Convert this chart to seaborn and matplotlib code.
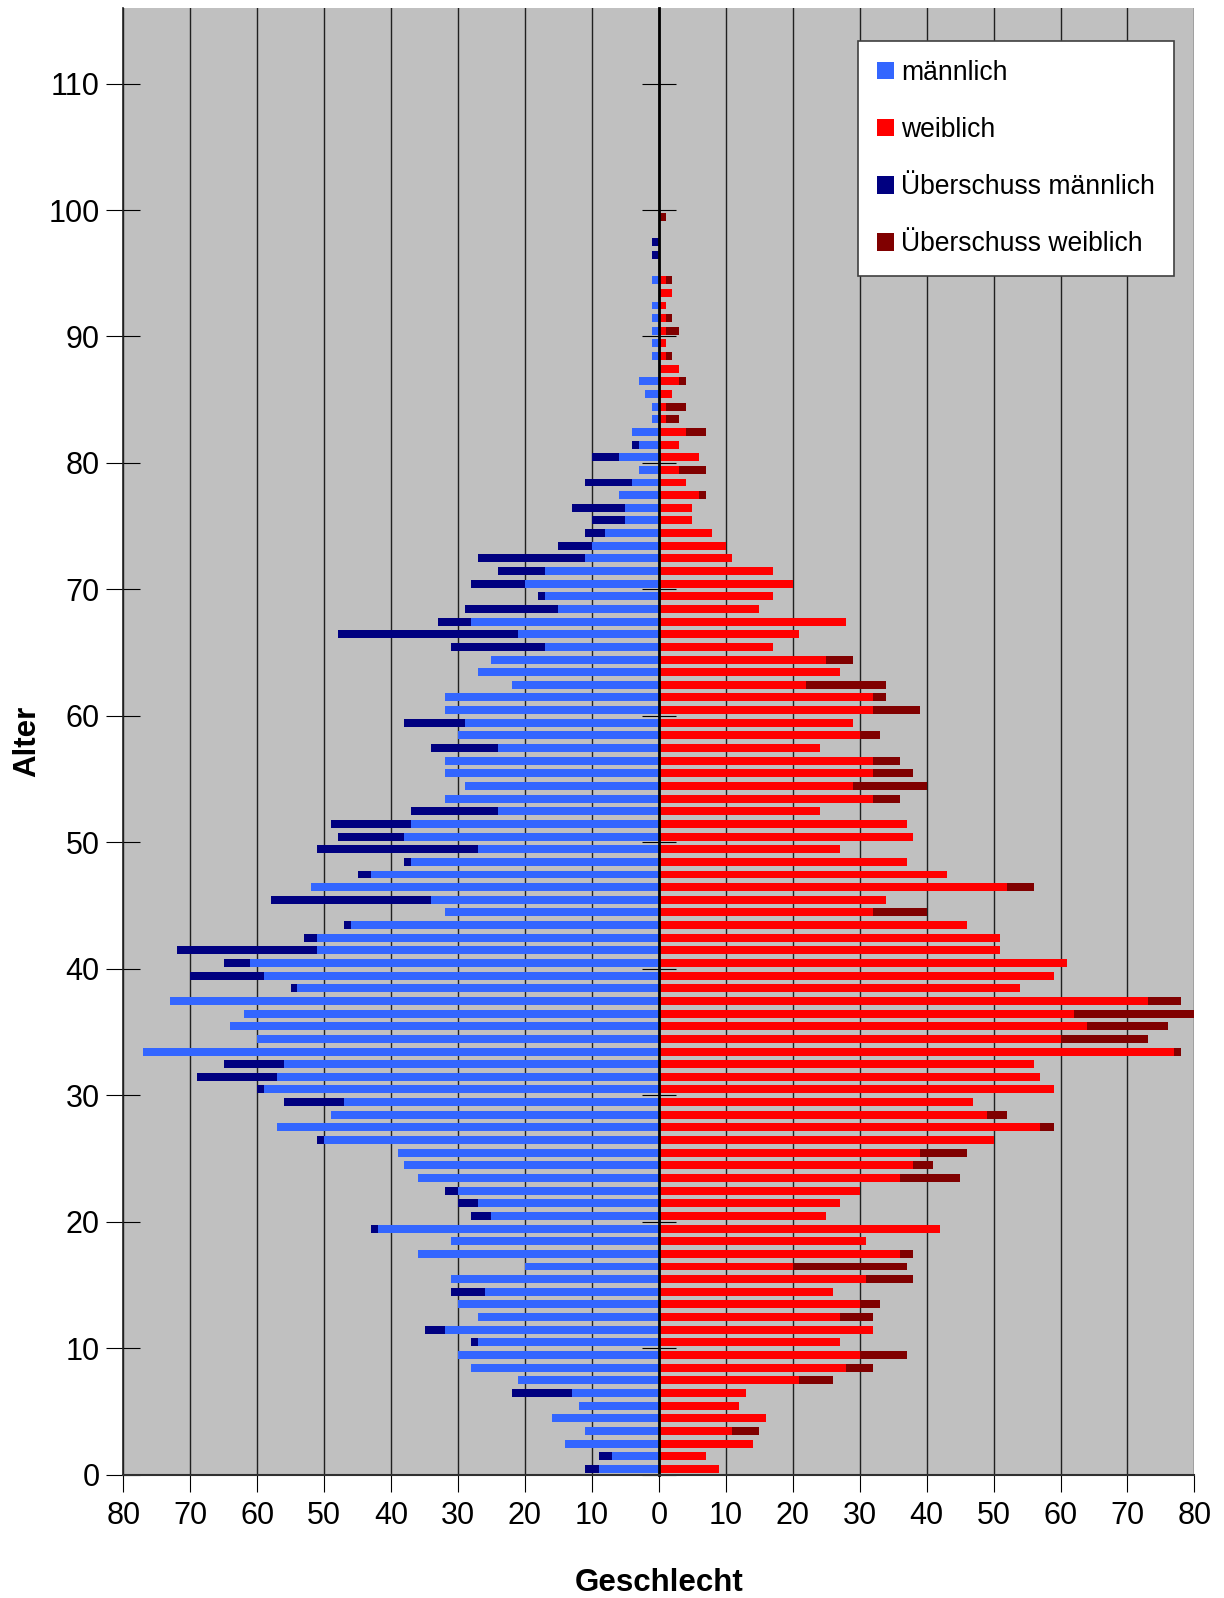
import numpy as np
import pandas as pd
import matplotlib
matplotlib.use("Agg")
import matplotlib.pyplot as plt
import seaborn as sns
from matplotlib.patches import Patch
from matplotlib.ticker import FuncFormatter

# Altersjahrgänge 0..99
alter = list(range(100))

# gemeinsamer Sockel je Seite (hellblau / rot)
maennlich = [
    9, 7, 14, 11, 16, 12, 13, 21, 28, 30,
    27, 32, 27, 30, 26, 31, 20, 36, 31, 42,
    25, 27, 30, 36, 38, 39, 50, 57, 49, 47,
    59, 57, 56, 77, 60, 64, 62, 73, 54, 59,
    61, 51, 51, 46, 32, 34, 52, 43, 37, 27,
    38, 37, 24, 32, 29, 32, 32, 24, 30, 29,
    32, 32, 22, 27, 25, 17, 21, 28, 15, 17,
    20, 17, 11, 10, 8, 5, 5, 6, 4, 3,
    6, 3, 4, 1, 1, 2, 3, 0, 1, 1,
    1, 1, 1, 0, 1, 0, 0, 0, 0, 0,
]
weiblich = [
    9, 7, 14, 11, 16, 12, 13, 21, 28, 30,
    27, 32, 27, 30, 26, 31, 20, 36, 31, 42,
    25, 27, 30, 36, 38, 39, 50, 57, 49, 47,
    59, 57, 56, 77, 60, 64, 62, 73, 54, 59,
    61, 51, 51, 46, 32, 34, 52, 43, 37, 27,
    38, 37, 24, 32, 29, 32, 32, 24, 30, 29,
    32, 32, 22, 27, 25, 17, 21, 28, 15, 17,
    20, 17, 11, 10, 8, 5, 5, 6, 4, 3,
    6, 3, 4, 1, 1, 2, 3, 3, 1, 1,
    1, 1, 1, 2, 1, 0, 0, 0, 0, 0,
]
ueberschuss_m = [
    2, 2, 0, 0, 0, 0, 9, 0, 0, 0,
    1, 3, 0, 0, 5, 0, 0, 0, 0, 1,
    3, 3, 2, 0, 0, 0, 1, 0, 0, 9,
    1, 12, 9, 0, 0, 0, 0, 0, 1, 11,
    4, 21, 2, 1, 0, 24, 0, 2, 1, 24,
    10, 12, 13, 0, 0, 0, 0, 10, 0, 9,
    0, 0, 0, 0, 0, 14, 27, 5, 14, 1,
    8, 7, 16, 5, 3, 5, 8, 0, 7, 0,
    4, 1, 0, 0, 0, 0, 0, 0, 0, 0,
    0, 0, 0, 0, 0, 0, 1, 1, 0, 0,
]
ueberschuss_w = [
    0, 0, 0, 4, 0, 0, 0, 5, 4, 7,
    0, 0, 5, 3, 0, 7, 17, 2, 0, 0,
    0, 0, 0, 9, 3, 7, 0, 2, 3, 0,
    0, 0, 0, 1, 13, 12, 18, 5, 0, 0,
    0, 0, 0, 0, 8, 0, 4, 0, 0, 0,
    0, 0, 0, 4, 11, 6, 4, 0, 3, 0,
    7, 2, 12, 0, 4, 0, 0, 0, 0, 0,
    0, 0, 0, 0, 0, 0, 0, 1, 0, 4,
    0, 0, 3, 2, 3, 0, 1, 0, 1, 0,
    2, 1, 0, 0, 1, 0, 0, 0, 0, 1,
]

legend_labels = ["männlich", "weiblich", "Überschuss männlich", "Überschuss weiblich"]
farben = {"m": "#3366FF", "w": "#FF0000", "mx": "#000080", "wx": "#800000"}

df = pd.DataFrame({
    "alter": alter,
    "m": maennlich,
    "w": weiblich,
    "mx": ueberschuss_m,
    "wx": ueberschuss_w,
})
# each bar sits inside its one-year interval
df["pos"] = df["alter"] + 0.45

plt.rcParams["font.family"] = ["Liberation Sans", "DejaVu Sans"]

fig = plt.figure(figsize=(12.24, 15.98), dpi=100)
ax = fig.add_axes([123.3 / 1224, 123.5 / 1598, 1071.1 / 1224, 1466.8 / 1598])
ax.set_facecolor("#C0C0C0")

# totals first (dark), then the common part on top
schichten = [
    (-(df["m"] + df["mx"]), farben["mx"]),
    (-df["m"], farben["m"]),
    (df["w"] + df["wx"], farben["wx"]),
    (df["w"], farben["w"]),
]
for werte, farbe in schichten:
    sns.barplot(x=werte.values, y=df["pos"].values, orient="y", native_scale=True,
                width=0.63, color=farbe, saturation=1, errorbar=None,
                linewidth=0, ax=ax)

ax.set_xlim(-80, 80)
ax.set_ylim(0, 116)
ax.set_xticks(range(-80, 81, 10))
ax.xaxis.set_major_formatter(FuncFormatter(lambda v, p: f"{abs(int(round(v)))}"))
ax.set_yticks(range(0, 111, 10))
ax.set_yticklabels([str(t) for t in range(0, 111, 10)])

ax.grid(axis="x", color="#202020", linewidth=1.0)
ax.grid(axis="y", visible=False)
ax.set_axisbelow(True)

ax.spines["top"].set_visible(False)
ax.spines["right"].set_position(("data", 0))
ax.spines["right"].set_linewidth(2.0)
ax.spines["right"].set_color("black")
ax.spines["left"].set_linewidth(1.2)
ax.spines["left"].set_color("#202020")
ax.spines["bottom"].set_linewidth(1.5)
ax.spines["bottom"].set_color("#303030")

ax.tick_params(axis="y", left=True, right=True, labelleft=True, labelright=False,
               direction="inout", length=24.5, width=0.8, color="black",
               labelsize=22, pad=4.8)
ax.tick_params(axis="x", bottom=True, top=False, direction="out", length=12.2,
               width=0.8, color="black", labelsize=22, pad=6.6)

ax.set_xlabel("Geschlecht", fontsize=22.5, fontweight="bold")
ax.set_ylabel("Alter", fontsize=22.5, fontweight="bold")
ax.xaxis.set_label_coords(0.5, -0.064)
ax.yaxis.set_label_coords(-0.076, 0.5)

handles = [
    Patch(facecolor=farben["m"], edgecolor="none", label=legend_labels[0]),
    Patch(facecolor=farben["w"], edgecolor="none", label=legend_labels[1]),
    Patch(facecolor=farben["mx"], edgecolor="none", label=legend_labels[2]),
    Patch(facecolor=farben["wx"], edgecolor="none", label=legend_labels[3]),
]
leg = fig.legend(handles=handles, loc="upper right",
                 bbox_to_anchor=(1174 / 1224, (1598 - 40.7) / 1598),
                 fontsize=19.1, frameon=True, fancybox=False, framealpha=1,
                 facecolor="white", edgecolor="#404040",
                 handlelength=0.66, handleheight=0.66, handletextpad=0.25,
                 labelspacing=1.17, borderpad=0.72, borderaxespad=0)
leg.get_frame().set_linewidth(1.2)

fig.savefig("out.png", dpi=100)
